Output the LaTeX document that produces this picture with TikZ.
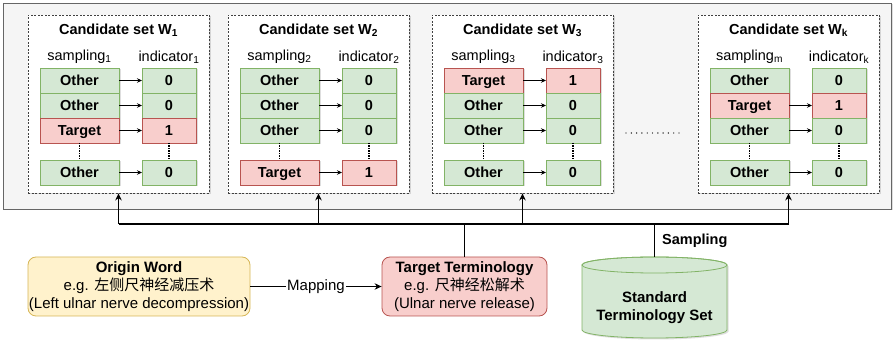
\documentclass[tikz,border=0pt]{standalone}
\usepackage{fontspec}
\setmainfont{Liberation Sans}
\newfontfamily\cjk{Noto Sans CJK SC}
\usetikzlibrary{arrows.meta,shadows,positioning}

\definecolor{greenfill}{HTML}{D5E8D4}
\definecolor{greenline}{HTML}{82B366}
\definecolor{redfill}{HTML}{F8CECC}
\definecolor{redline}{HTML}{B85450}
\definecolor{yellowfill}{HTML}{FFF2CC}
\definecolor{yellowline}{HTML}{D6B656}
\definecolor{poolfill}{HTML}{F5F5F5}
\definecolor{poolline}{HTML}{666666}

\tikzset{
  txt/.style={font=\fontsize{14.5}{17}\selectfont, inner sep=0pt},
  boldtxt/.style={font=\fontsize{14.5}{17}\selectfont\bfseries, inner sep=0pt},
  softshadow/.style={drop shadow={shadow xshift=1.5pt, shadow yshift=-1.5pt, opacity=0.13, fill=black}},
  cell/.style={boldtxt, draw, line width=0.8pt, minimum height=25, outer sep=0pt,
    text height=10.4pt, text depth=0.5pt, softshadow},
  samo/.style={cell, fill=greenfill, draw=greenline, minimum width=79, node contents={Other}},
  samt/.style={cell, fill=redfill, draw=redline, minimum width=79, node contents={Target}},
  indo/.style={cell, fill=greenfill, draw=greenline, minimum width=54, node contents={0}},
  indt/.style={cell, fill=redfill, draw=redline, minimum width=54, node contents={1}},
  setbox/.style={draw=black!75, fill=white, line width=0.8pt, dash pattern=on 2pt off 1.5pt,
    minimum width=181, minimum height=178, softshadow},
  cellarrow/.style={-{Stealth[length=5pt,width=4.5pt]}, line width=0.8pt},
  gap/.style={line width=1.3pt, dash pattern=on 1.3pt off 1.2pt},
  bus/.style={line width=1.3pt},
  uparrow/.style={bus, -{Stealth[length=7pt,width=6.5pt]}},
  wordbox/.style={font=\fontsize{15}{18}\selectfont, align=center, rounded corners=8pt,
    line width=0.8pt, minimum height=59, inner sep=0pt},
}

\begin{document}
\begin{tikzpicture}[x=1pt,y=-1pt]
 \useasboundingbox (0,0) rectangle (895,344);
 % grey pool behind the candidate sets
 \draw[fill=poolfill, draw=poolline, line width=0.8pt, softshadow] (3,3) rectangle (891,209);
 %
 \foreach \name/\X/\sa/\sb/\ra/\rb/\rc/\rd/\first in
   {1/28/1/1/o/o/t/o/1, 2/228/2/2/o/o/o/t/1, 3/432/3/3/t/o/o/o/1, k/698/m/k/o/t/o/o/2} {
   \node[setbox] (box\name) at (\X+90.5,104) {};
   \node[boldtxt] (ttl\name) at (\X+90.5,30) {Candidate set W\textsubscript{\name}};
   \node[txt] (sl\name) at (\X+51.5,57) {sampling\textsubscript{\sa}};
   \node[txt] (il\name) at (\X+141,57) {indicator\textsubscript{\sb}};
   \node (s\name1) at (\X+51.5,80.5) [sam\ra];
   \node (i\name1) at (\X+141,80.5) [ind\ra];
   \node (s\name2) at (\X+51.5,105.5) [sam\rb];
   \node (i\name2) at (\X+141,105.5) [ind\rb];
   \node (s\name3) at (\X+51.5,130.5) [sam\rc];
   \node (i\name3) at (\X+141,130.5) [ind\rc];
   \node (s\name4) at (\X+51.5,172.5) [sam\rd];
   \node (i\name4) at (\X+141,172.5) [ind\rd];
   \draw[gap] (s\name3) -- (s\name4);
   \draw[gap] (i\name3) -- (i\name4);
   \foreach \r in {\first,...,4}
     \draw[cellarrow] (s\name\r) -- (i\name\r);
 }
 \draw[line width=1.4pt, line cap=round, dash pattern=on 0pt off 5.3pt] (626,133) -- (684,133);
 %
 \node[wordbox, fill=yellowfill, draw=yellowline, minimum width=222] (origin) at (139,286.5)
   {\textbf{Origin Word}\\e.g. {\cjk 左侧尺神经减压术}\\(Left ulnar nerve decompression)};
 \node[wordbox, fill=redfill, draw=redline, minimum width=165] (target) at (464.5,286.5)
   {\textbf{Target Terminology}\\e.g. {\cjk 尺神经松解术}\\(Ulnar nerve release)};
 \draw[-{Stealth[length=7pt,width=6.5pt]}, line width=1pt] (origin) --
   node[font=\fontsize{15}{18}\selectfont, fill=white, inner sep=1pt] {Mapping} (target);
 %
 \draw[fill=greenfill, draw=greenline, line width=0.8pt, softshadow]
   (582,265) -- (582,330) arc[start angle=180, end angle=0, x radius=72.5, y radius=8]
   -- (727,265) arc[start angle=0, end angle=-180, x radius=72.5, y radius=8] -- cycle;
 \draw[draw=greenline, line width=0.8pt] (654.5,265) ellipse[x radius=72.5, y radius=8];
 \coordinate (cyltop) at (654.5,257);
 \node[boldtxt, align=center, font=\fontsize{15}{18}\selectfont\bfseries] (std) at (654.5,308)
   {Standard\\Terminology Set};
 %
 \coordinate (bus) at (0,224);
 \draw[bus] (box1.south |- bus) -- (boxk.south |- bus);
 \foreach \name in {1,2,3,k}
   \draw[uparrow] (box\name.south |- bus) -- (box\name.south);
 \draw[bus] (target.north) -- (target.north |- bus);
 \draw[bus] (cyltop) -- node[boldtxt, right=7pt] {Sampling} (cyltop |- bus);
\end{tikzpicture}
\end{document}
